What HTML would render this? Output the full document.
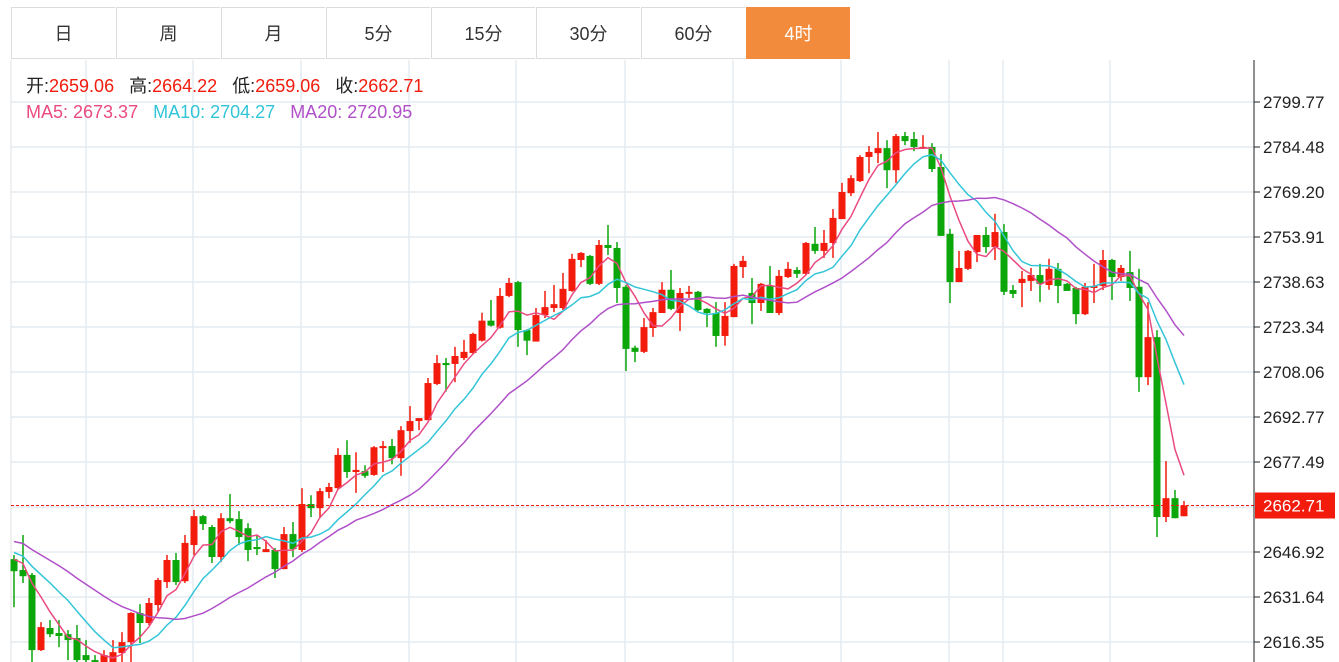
<!DOCTYPE html>
<html><head><meta charset="utf-8"><style>
body{margin:0;background:#fff;font-family:"Liberation Sans","Noto Sans CJK SC",sans-serif;}
#wrap{position:relative;width:1339px;height:662px;overflow:hidden;}
.tab{position:absolute;top:7px;height:52px;width:104px;border:1px solid #dcdcdc;border-right:none;box-sizing:border-box;text-align:center;line-height:52px;font-size:18px;color:#333;background:#fff;}
.tab.active{background:#f38b3c;color:#fff;border-color:#f38b3c;}
</style></head><body>
<div id="wrap">
<div id="tabs"></div>
<svg id="chart" width="1339" height="662" style="position:absolute;left:0;top:0"></svg>
</div>
<script>
const tabLabels=["日","周","月","5分","15分","30分","60分","4时"];
const tabNames=["day","week","month","5min","15min","30min","60min","4hour"];
const tabsEl=document.getElementById('tabs');
tabLabels.forEach((t,i)=>{const d=document.createElement('div');d.className='tab'+(i===7?' active':'');d.style.left=(11+i*105)+'px';d.textContent=t;


tabsEl.appendChild(d);});

const opens=[2644.5,2640.8,2639.1,2613.6,2621.1,2619.4,2619.0,2617.7,2611.9,2610.2,2609.5,2608.5,2612.6,2616.3,2626.2,2622.8,2628.9,2636.7,2644.2,2637.0,2649.3,2659.1,2655.4,2645.2,2658.4,2658.1,2655.0,2648.6,2646.9,2647.6,2641.1,2653.0,2647.6,2663.2,2661.8,2667.3,2668.6,2679.9,2674.1,2674.4,2673.1,2682.2,2682.9,2678.8,2688.0,2691.4,2691.7,2704.0,2711.1,2710.8,2712.8,2714.5,2718.7,2725.5,2723.1,2733.9,2738.6,2722.3,2718.4,2727.4,2729.8,2729.8,2735.6,2746.1,2747.5,2738.0,2751.2,2750.2,2737.0,2716.3,2714.9,2723.0,2728.1,2736.0,2728.1,2734.6,2735.3,2729.5,2728.1,2720.3,2726.7,2743.7,2734.9,2731.5,2737.3,2728.1,2740.3,2742.7,2741.4,2751.6,2749.2,2751.9,2760.0,2768.8,2772.9,2781.1,2782.4,2784.1,2776.6,2788.2,2787.2,2784.1,2784.5,2777.7,2755.0,2738.6,2743.1,2748.8,2754.6,2750.5,2755.6,2735.9,2738.3,2739.0,2741.0,2737.6,2743.1,2738.0,2736.6,2727.7,2736.6,2737.3,2746.1,2740.3,2742.0,2737.0,2706.3,2719.9,2658.8,2665.2,2659.06];
const closes=[2640.4,2638.7,2613.6,2621.4,2619.0,2618.4,2617.0,2610.2,2610.2,2609.5,2611.9,2612.9,2616.3,2626.2,2622.8,2629.6,2637.4,2644.2,2636.7,2650.0,2659.1,2656.4,2645.2,2658.4,2657.4,2652.0,2647.6,2647.9,2647.9,2641.1,2653.0,2647.9,2663.2,2661.8,2667.6,2669.0,2679.9,2674.1,2674.8,2672.8,2682.5,2682.9,2678.8,2688.3,2691.4,2692.4,2704.3,2711.1,2710.4,2713.5,2714.9,2721.0,2725.5,2723.8,2733.9,2738.3,2722.3,2718.7,2727.4,2730.1,2731.1,2736.3,2746.5,2748.5,2738.0,2751.2,2750.2,2736.6,2715.9,2714.9,2723.3,2728.4,2736.0,2729.5,2734.9,2735.3,2729.1,2728.1,2720.3,2727.1,2744.1,2745.8,2731.5,2738.0,2728.1,2740.7,2743.1,2741.4,2751.9,2749.2,2751.9,2760.4,2769.2,2773.9,2781.1,2782.8,2784.1,2776.6,2788.2,2786.5,2784.5,2784.5,2777.0,2754.3,2738.6,2743.4,2749.2,2754.6,2750.5,2755.6,2735.3,2734.6,2739.7,2741.0,2738.0,2743.1,2737.3,2735.6,2727.7,2737.0,2737.3,2746.1,2740.3,2743.4,2736.6,2706.3,2719.9,2658.8,2665.2,2658.4,2662.71];
const highs=[2645.9,2652.7,2639.8,2623.1,2623.8,2623.8,2620.4,2622.1,2617.0,2611.9,2613.6,2617.0,2619.7,2626.5,2629.2,2631.3,2638.1,2645.9,2646.6,2652.7,2661.2,2659.5,2656.1,2660.1,2666.6,2660.8,2656.7,2652.7,2651.0,2648.3,2655.4,2657.1,2668.6,2666.2,2668.6,2670.4,2682.2,2684.9,2680.8,2676.4,2682.9,2684.6,2685.3,2689.7,2696.5,2692.4,2706.0,2713.8,2712.8,2716.6,2719.0,2721.4,2728.2,2732.5,2736.6,2740.0,2739.0,2722.6,2729.8,2735.6,2737.6,2741.7,2748.2,2748.8,2747.8,2752.9,2758.0,2752.2,2737.6,2717.0,2726.4,2729.8,2738.6,2742.7,2736.6,2737.3,2735.6,2729.8,2731.8,2731.8,2744.8,2747.5,2740.0,2738.3,2744.1,2742.7,2745.4,2743.7,2752.2,2757.3,2756.3,2763.4,2772.3,2774.9,2781.7,2784.8,2789.6,2786.8,2788.9,2789.6,2789.6,2788.5,2785.8,2782.1,2756.7,2749.2,2749.5,2754.6,2757.3,2761.8,2758.3,2737.6,2742.4,2743.4,2744.8,2746.5,2745.1,2738.3,2737.0,2738.3,2744.8,2749.5,2746.5,2744.4,2749.2,2743.1,2731.8,2722.3,2677.8,2668.0,2664.22];
const lows=[2628.2,2636.4,2608.5,2613.3,2618.0,2614.6,2610.2,2607.5,2608.5,2607.5,2607.5,2607.5,2609.5,2609.5,2616.0,2622.1,2626.5,2634.7,2635.7,2636.4,2645.9,2654.4,2643.2,2643.5,2656.7,2649.3,2643.8,2645.9,2646.9,2638.1,2641.1,2645.2,2646.9,2658.8,2658.4,2665.2,2668.0,2672.1,2667.0,2672.1,2672.8,2674.1,2676.7,2672.8,2684.0,2688.3,2691.7,2703.6,2701.4,2704.6,2712.1,2714.2,2718.4,2723.5,2722.8,2733.5,2716.6,2713.8,2718.4,2726.4,2728.4,2729.1,2735.3,2743.7,2737.6,2737.6,2747.8,2731.5,2708.4,2711.4,2714.5,2720.0,2728.1,2729.1,2722.0,2733.2,2728.8,2723.3,2716.6,2717.0,2726.7,2740.0,2724.3,2728.8,2728.1,2727.4,2740.0,2740.0,2741.0,2748.2,2746.8,2746.8,2760.0,2767.8,2772.6,2775.6,2779.0,2770.5,2772.3,2785.1,2783.1,2783.8,2776.0,2754.3,2731.5,2738.6,2742.7,2745.4,2748.5,2746.1,2734.2,2733.2,2730.1,2735.6,2731.8,2736.0,2731.5,2735.6,2724.3,2727.4,2731.5,2735.9,2732.5,2739.0,2732.2,2701.3,2703.6,2652.0,2657.1,2658.4,2659.06];
const priorCloses=[2652,2655,2658,2656,2654,2657,2655,2652,2650,2653,2651,2648,2650,2647,2649,2646,2647,2645,2644];
const yTicks=[2799.77,2784.48,2769.20,2753.91,2738.63,2723.34,2708.06,2692.77,2677.49,2662.20,2646.92,2631.64,2616.35];
const lastPrice=2662.71;
const xGrid=[86,193,301,409,516,625,733,841,949,1003,1110];

const NS='http://www.w3.org/2000/svg';
const svg=document.getElementById('chart');
function mk(tag,attrs,parent){const e=document.createElementNS(NS,tag);for(const k in attrs)e.setAttribute(k,attrs[k]);(parent||svg).appendChild(e);return e;}
const yPx=v=>102+(2799.77-v)*(540/(2799.77-2616.35));
const xPx=i=>14+i*9;
const L=11,R=1254,T=60,B=662;

const grid=mk('g',{});


yTicks.forEach(v=>{const y=yPx(v);const l=mk('line',{x1:L,x2:R,y1:y,y2:y,stroke:'#e4ebf1','stroke-width':1.5},grid);});
xGrid.forEach(x=>{const l=mk('line',{x1:x,x2:x,y1:T,y2:B,stroke:'#e4ebf1','stroke-width':1.5},grid);});
const lb=mk('line',{x1:L,x2:L,y1:T,y2:B,stroke:'#e0e0e0'});



// candles
const cg=mk('g',{});


closes.forEach((c,i)=>{const o=opens[i];const up=c>=o;const col=up?'#f21b0c':'#0aa60a';const x=xPx(i);
const g=mk('g',{},cg);


mk('line',{x1:x,x2:x,y1:yPx(highs[i]),y2:yPx(lows[i]),stroke:col,'stroke-width':1.5},g);
const yt=yPx(Math.max(o,c)),yb=yPx(Math.min(o,c));
mk('rect',{x:x-3.5,y:yt,width:7,height:Math.max(1.5,yb-yt),fill:col},g);});

// MAs
const all=priorCloses.concat(closes);
function ma(n){const out=[];for(let i=0;i<closes.length;i++){const j=i+priorCloses.length;let s=0;for(let k=j-n+1;k<=j;k++)s+=all[k];out.push(s/n);}return out;}
[[5,'#ea4a80'],[10,'#32c5d8'],[20,'#b050c8']].forEach(([n,col])=>{const v=ma(n);const d=v.map((p,i)=>(i?'L':'M')+xPx(i)+','+yPx(p).toFixed(1)).join('');
const p=mk('path',{d:d,fill:'none',stroke:col,'stroke-width':1.5});

});

// last price line
const yl=yPx(lastPrice);
const pl=mk('line',{x1:L,x2:R,y1:yl,y2:yl,stroke:'#f21b0c','stroke-dasharray':'3,2','stroke-width':1});



// axis
const ax=mk('line',{x1:R,x2:R,y1:T,y2:B,stroke:'#222','stroke-width':1});


yTicks.forEach(v=>{const y=yPx(v);if(Math.abs(y-yl)<12)return;mk('line',{x1:R,x2:R+6,y1:y,y2:y,stroke:'#222'});
const t=mk('text',{x:1263,y:y+6,'font-size':17,fill:'#222','font-family':'Liberation Sans, sans-serif'});t.textContent=v.toFixed(2);

});
const lr=mk('rect',{x:1255,y:yl-13,width:80,height:26,fill:'#f21b0c'});


const lt=mk('text',{x:1263,y:yl+6,'font-size':17,fill:'#fff','font-family':'Liberation Sans, sans-serif'});lt.textContent=lastPrice.toFixed(2);



// info
function info(y,parts,name){const t=mk('text',{x:26,y:y,'font-size':18,'font-family':'Liberation Sans, Noto Sans CJK SC, sans-serif'});


parts.forEach(([s,c])=>{const sp=mk('tspan',{fill:c},t);sp.textContent=s;});}
info(92,[['开:','#222'],['2659.06   ','#f21b0c'],['高:','#222'],['2664.22   ','#f21b0c'],['低:','#222'],['2659.06   ','#f21b0c'],['收:','#222'],['2662.71','#f21b0c']],'ohlc-info');
info(118,[['MA5: 2673.37   ','#ea4a80'],['MA10: 2704.27   ','#32c5d8'],['MA20: 2720.95','#b050c8']],'ma-legend');
document.querySelectorAll('#chart text tspan').forEach(()=>{});
svg.querySelectorAll('text').forEach(t=>t.setAttribute('xml:space','preserve'));
svg.querySelectorAll('text').forEach(t=>t.style.whiteSpace='pre');
</script>
</body></html>
